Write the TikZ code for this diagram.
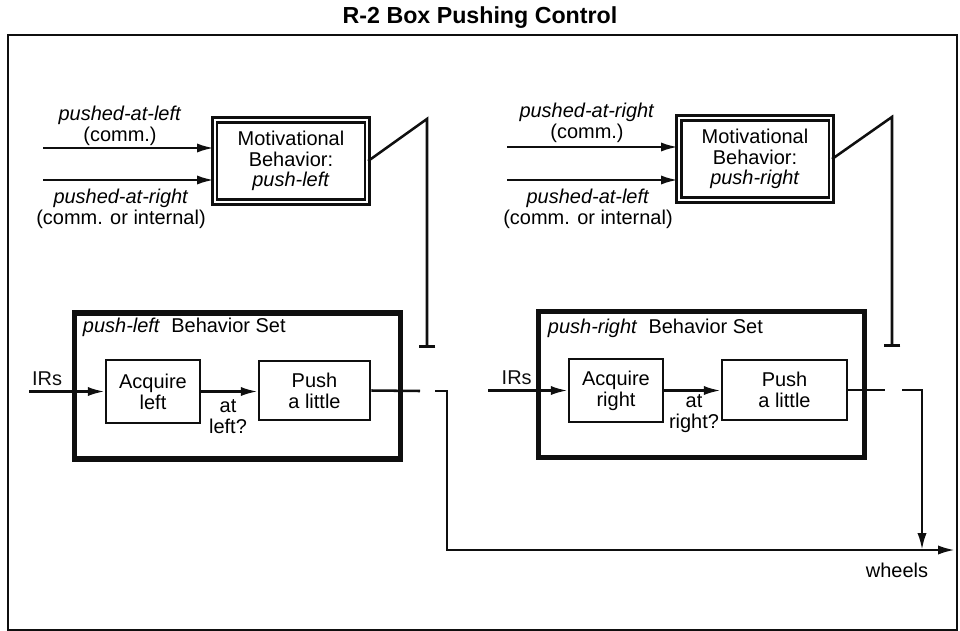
\documentclass[tikz,border=0pt]{standalone}
\usepackage{fontspec}
\setmainfont{Liberation Sans}
\usepackage{xcolor}
\usepackage{tikz}
\usetikzlibrary{arrows.meta}
\definecolor{primary}{RGB}{15, 15, 15}

\begin{document}
\begin{tikzpicture}[x=0.025cm,y=-0.025cm,>={Latex[length=12pt,width=6.5pt]},
  font=\fontsize{14.2}{14.8}\selectfont,
  wire/.style={primary,line width=1.8pt},
  box/.style={draw=primary,line width=1.8pt,align=center,inner sep=2pt},
  motbox/.style={draw=primary,double,double distance=2pt,line width=1.5pt,align=center,minimum width=3.8cm,minimum height=2.05cm},
  setbox/.style={draw=primary,line width=3.6pt,minimum width=8.15cm,minimum height=3.65cm},
  lbl/.style={align=center,inner sep=0pt}]
\useasboundingbox (0,0) rectangle (960,631);
\node[font=\fontsize{16.5}{18}\selectfont\bfseries] (title) at (480,18) {R-2 Box Pushing Control};
\draw[primary,line width=1.4pt] (8,35) rectangle (957,630);

\node[motbox] (motl) at (291,161) {Motivational\\Behavior:\\\textit{push-left}};
\node[lbl] (inl1lab) at (120,126) {\textit{pushed-at-left}\\(comm.)};
\node[lbl] (inl2lab) at (121,209) {\textit{pushed-at-right}\\(comm. or internal)};
\coordinate (inl1) at (43,148);
\coordinate (inl2) at (43,180);
\draw[wire,->] (inl1) -- (inl1 -| motl.west);
\draw[wire,->] (inl2) -- (inl2 -| motl.west);
\coordinate (supl) at (427,348);
\draw[wire,-{Bar[width=12pt]}] (motl.east) -- (supl |- motl.north) -- (supl);

\node[setbox] (setl) at (237.5,386) {};
\node[anchor=west] (setllab) at (78,327) {\textit{push-left}\ \ Behavior Set};
\node[box,minimum width=2.35cm,minimum height=1.575cm] (acql) at (153,391.5) {Acquire\\left};
\node[box,minimum width=2.775cm,minimum height=1.475cm] (pushl) at (314.5,390.5) {Push\\a little};
\coordinate (irl) at (29,391.5);
\draw[wire,->] (irl) -- (acql.west) node[pos=0.24,above] (irsl) {IRs};
\draw[wire,->] (acql.east) -- (acql.east -| pushl.west);
\node[lbl] (atl) at (228,417) {at\\left?};
\coordinate (swl) at (420,391);
\coordinate (outl) at (435,391);
\coordinate (downl) at (447,550);
\coordinate (wheels) at (955,550);
\draw[wire] (pushl.east) -- (swl);
\draw[wire,->] (outl) -- (outl -| downl) -- (downl) -- (wheels);
\node (wheelslab) at (897,570) {wheels};

\node[motbox] (motr) at (755,159) {Motivational\\Behavior:\\\textit{push-right}};
\node[lbl] (inr1lab) at (587,123) {\textit{pushed-at-right}\\(comm.)};
\node[lbl] (inr2lab) at (588,209) {\textit{pushed-at-left}\\(comm. or internal)};
\coordinate (inr1) at (507,147);
\coordinate (inr2) at (507,180);
\draw[wire,->] (inr1) -- (inr1 -| motr.west);
\draw[wire,->] (inr2) -- (inr2 -| motr.west);
\coordinate (supr) at (892,347);
\draw[wire,-{Bar[width=12pt]}] (motr.east) -- (supr |- motr.north) -- (supr);

\node[setbox] (setr) at (701.5,384.5) {};
\node[anchor=west] (setrlab) at (543,328) {\textit{push-right}\ \ Behavior Set};
\node[box,minimum width=2.35cm,minimum height=1.575cm] (acqr) at (616,390.5) {Acquire\\right};
\node[box,minimum width=3.125cm,minimum height=1.5cm] (pushr) at (784.5,390) {Push\\a little};
\coordinate (irr) at (488,390.5);
\draw[wire,->] (irr) -- (acqr.west) node[pos=0.36,above] (irsr) {IRs};
\draw[wire,->] (acqr.east) -- (acqr.east -| pushr.west);
\node[lbl] (atr) at (694,414) {at\\right?};
\coordinate (swr) at (885,390);
\coordinate (outr) at (902,390);
\coordinate (downr) at (922,550);
\draw[wire] (pushr.east) -- (swr);
\draw[wire,->] (outr) -- (outr -| downr) -- (downr);
\end{tikzpicture}
\end{document}
